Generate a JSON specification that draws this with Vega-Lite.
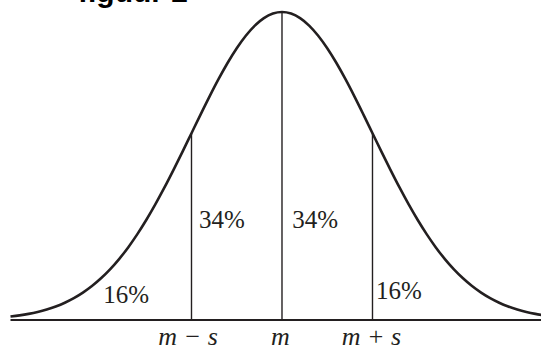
{
  "$schema": "https://vega.github.io/schema/vega-lite/v6.json",
  "width": 541,
  "height": 346,
  "padding": 0,
  "autosize": "none",
  "background": "white",
  "config": {"view": {"stroke": null}},
  "datasets": {
    "curve": [
      {"z": -3.0, "f": 0.01111}, {"z": -2.9, "f": 0.01492}, {"z": -2.8, "f": 0.01984}, {"z": -2.7, "f": 0.02612},
      {"z": -2.6, "f": 0.03405}, {"z": -2.5, "f": 0.04394}, {"z": -2.4, "f": 0.05614}, {"z": -2.3, "f": 0.07101},
      {"z": -2.2, "f": 0.08892}, {"z": -2.1, "f": 0.11025}, {"z": -2.0, "f": 0.13534}, {"z": -1.9, "f": 0.16447},
      {"z": -1.8, "f": 0.19790}, {"z": -1.7, "f": 0.23575}, {"z": -1.6, "f": 0.27804}, {"z": -1.5, "f": 0.32465},
      {"z": -1.4, "f": 0.37531}, {"z": -1.3, "f": 0.42956}, {"z": -1.2, "f": 0.48675}, {"z": -1.1, "f": 0.54607},
      {"z": -1.0, "f": 0.60653}, {"z": -0.9, "f": 0.66698}, {"z": -0.8, "f": 0.72615}, {"z": -0.7, "f": 0.78270},
      {"z": -0.6, "f": 0.83527}, {"z": -0.5, "f": 0.88250}, {"z": -0.4, "f": 0.92312}, {"z": -0.3, "f": 0.95600},
      {"z": -0.2, "f": 0.98020}, {"z": -0.1, "f": 0.99501}, {"z": 0.0, "f": 1.0}, {"z": 0.1, "f": 0.99501},
      {"z": 0.2, "f": 0.98020}, {"z": 0.3, "f": 0.95600}, {"z": 0.4, "f": 0.92312}, {"z": 0.5, "f": 0.88250},
      {"z": 0.6, "f": 0.83527}, {"z": 0.7, "f": 0.78270}, {"z": 0.8, "f": 0.72615}, {"z": 0.9, "f": 0.66698},
      {"z": 1.0, "f": 0.60653}, {"z": 1.1, "f": 0.54607}, {"z": 1.2, "f": 0.48675}, {"z": 1.3, "f": 0.42956},
      {"z": 1.4, "f": 0.37531}, {"z": 1.5, "f": 0.32465}, {"z": 1.6, "f": 0.27804}, {"z": 1.7, "f": 0.23575},
      {"z": 1.8, "f": 0.19790}, {"z": 1.9, "f": 0.16447}, {"z": 2.0, "f": 0.13534}, {"z": 2.1, "f": 0.11025},
      {"z": 2.2, "f": 0.08892}, {"z": 2.3, "f": 0.07101}, {"z": 2.4, "f": 0.05614}, {"z": 2.5, "f": 0.04394},
      {"z": 2.6, "f": 0.03405}, {"z": 2.7, "f": 0.02612}, {"z": 2.8, "f": 0.01984}, {"z": 2.9, "f": 0.01492}
    ],
    "verticals": [
      {"z": -1, "f": 0, "f2": 0.60653},
      {"z": 0, "f": 0, "f2": 1.0},
      {"z": 1, "f": 0, "f2": 0.60653}
    ],
    "baseline": [
      {"z": -3.0, "z2": 2.9, "f": 0}
    ],
    "pct": [
      {"z": -0.917, "f": 0.2987, "label": "34%"},
      {"z": 0.114, "f": 0.2987, "label": "34%"},
      {"z": -1.975, "f": 0.054, "label": "16%"},
      {"z": 1.039, "f": 0.067, "label": "16%"}
    ],
    "ticks": [
      {"z": -1.038, "f": -0.0812, "label": "m − s"},
      {"z": -0.017, "f": -0.0812, "label": "m"},
      {"z": 0.989, "f": -0.0812, "label": "m + s"}
    ],
    "title": [
      {"z": -2.254, "f": 1.0325, "label": "figuur 2"}
    ]
  },
  "encoding": {
    "x": {"field": "z", "type": "quantitative", "scale": {"domain": [-3.116, 2.862], "nice": false, "zero": false}, "axis": null},
    "y": {"field": "f", "type": "quantitative", "scale": {"domain": [-0.0844, 1.039], "nice": false, "zero": false}, "axis": null}
  },
  "layer": [
    {
      "data": {"name": "baseline"},
      "mark": {"type": "rule", "color": "#231f20", "strokeWidth": 2, "clip": true},
      "encoding": {"x2": {"field": "z2"}}
    },
    {
      "data": {"name": "verticals"},
      "mark": {"type": "rule", "color": "#231f20", "strokeWidth": 1.4},
      "encoding": {"y2": {"field": "f2"}}
    },
    {
      "data": {"name": "curve"},
      "mark": {"type": "line", "color": "#231f20", "strokeWidth": 2.6, "interpolate": "monotone", "clip": true}
    },
    {
      "data": {"name": "pct"},
      "mark": {"type": "text", "align": "left", "baseline": "alphabetic", "font": "Liberation Serif", "fontSize": 25, "color": "#231f20"},
      "encoding": {"text": {"field": "label"}}
    },
    {
      "data": {"name": "ticks"},
      "mark": {"type": "text", "align": "center", "baseline": "alphabetic", "font": "Liberation Serif", "fontStyle": "italic", "fontSize": 26, "color": "#231f20"},
      "encoding": {"text": {"field": "label"}}
    },
    {
      "data": {"name": "title"},
      "mark": {"type": "text", "align": "left", "baseline": "alphabetic", "font": "Liberation Sans", "fontWeight": "bold", "fontSize": 30, "color": "#000000"},
      "encoding": {"text": {"field": "label"}}
    }
  ]
}
